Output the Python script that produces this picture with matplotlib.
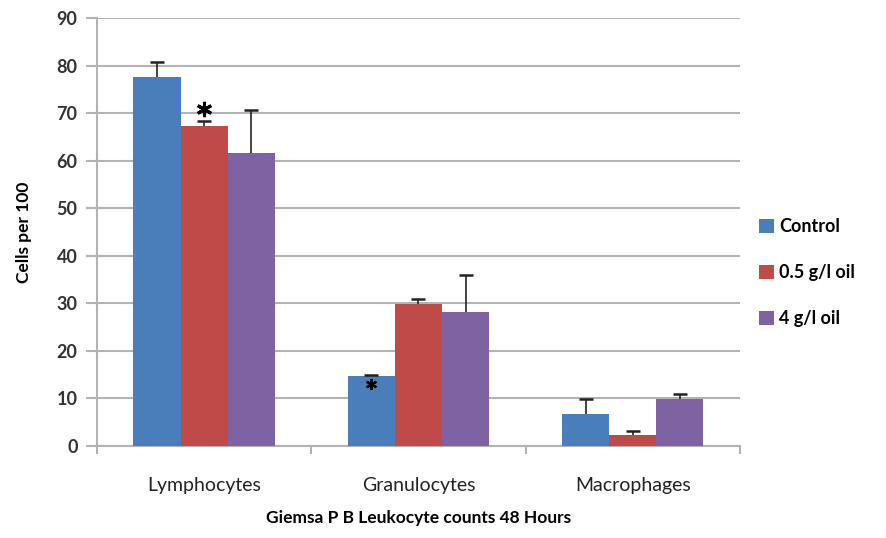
import matplotlib
matplotlib.use('agg')
import matplotlib.pyplot as plt
import numpy as np

categories = ['Lymphocytes', 'Granulocytes', 'Macrophages']
series = ['Control', '0.5 g/l oil', '4 g/l oil']
control = [77.6, 14.7, 6.7]
oil_low = [67.3, 29.9, 2.3]
oil_high = [61.6, 28.2, 9.9]
control_err = [3.1, 0.3, 3.2]
oil_low_err = [1.0, 1.1, 0.9]
oil_high_err = [9.0, 7.8, 1.1]
# significance marks: (category index, series index, y position, size)
stars = [(0, 1, 70.8, 11), (1, 0, 13.0, 8)]

colors = ['#4a7ebb', '#be4b48', '#7e62a1']
grid_col = '#b3b3b3'
text_col = '#333333'

plt.rcParams['font.family'] = ['Lato', 'DejaVu Sans']

fig = plt.figure(figsize=(8.86, 5.38), dpi=100)
ax = fig.add_axes([0.1095, 0.171, 0.7255, 0.7955])

x = np.arange(len(categories))
w = 0.22
values = [control, oil_low, oil_high]
errs = [control_err, oil_low_err, oil_high_err]
for i, (vals, err) in enumerate(zip(values, errs)):
    pos = x + (i - 1) * w
    ax.bar(pos, vals, w, color=colors[i], label=series[i], zorder=3)
    eb = ax.errorbar(pos, vals, yerr=[np.zeros(len(err)), err], fmt='none',
                     ecolor='#222222', elinewidth=1.2, capsize=5,
                     capthick=1.8, zorder=4)
    # plus-only bars: hide the cap sitting on the bar top
    eb[1][0].set_visible(False)

for ci, si, yv, ms in stars:
    ax.plot(x[ci] + (si - 1) * w, yv, marker=(6, 2, 0), markersize=ms,
            markeredgewidth=ms * 0.2, color='black', zorder=5)

ax.set_xlim(-0.5, 2.5)
ax.set_ylim(0, 90)
ax.set_yticks(range(0, 91, 10))
ax.yaxis.grid(True, color=grid_col, linewidth=1.5, zorder=0)
ax.set_axisbelow(True)

for s in ['top', 'right']:
    ax.spines[s].set_visible(False)
for s in ['left', 'bottom']:
    ax.spines[s].set_color(grid_col)
    ax.spines[s].set_linewidth(1.5)

ax.set_xticks(x)
ax.set_xticklabels(categories, fontsize=14, color='#222222')
ax.tick_params(axis='x', length=0, pad=22)
ax.set_xticks([-0.5, 0.5, 1.5, 2.5], minor=True)
ax.tick_params(axis='x', which='minor', length=6, color=grid_col, width=1.5)
ax.tick_params(axis='y', length=8, color=grid_col, width=1.5, pad=6,
               labelsize=13, labelcolor=text_col)
for lbl in ax.get_yticklabels():
    lbl.set_fontweight('bold')

ax.set_ylabel('Cells per 100', fontsize=12.5, fontweight='bold', labelpad=18)
ax.set_xlabel('Giemsa P B Leukocyte counts 48 Hours', fontsize=12.5,
              fontweight='bold', labelpad=12)

leg = ax.legend(loc='center left', bbox_to_anchor=(1.005, 0.405), frameon=False,
                prop={'weight': 'bold', 'size': 13}, handlelength=0.8,
                handleheight=0.8, handletextpad=0.3, labelspacing=1.6)

fig.savefig('out.png', dpi=100)
